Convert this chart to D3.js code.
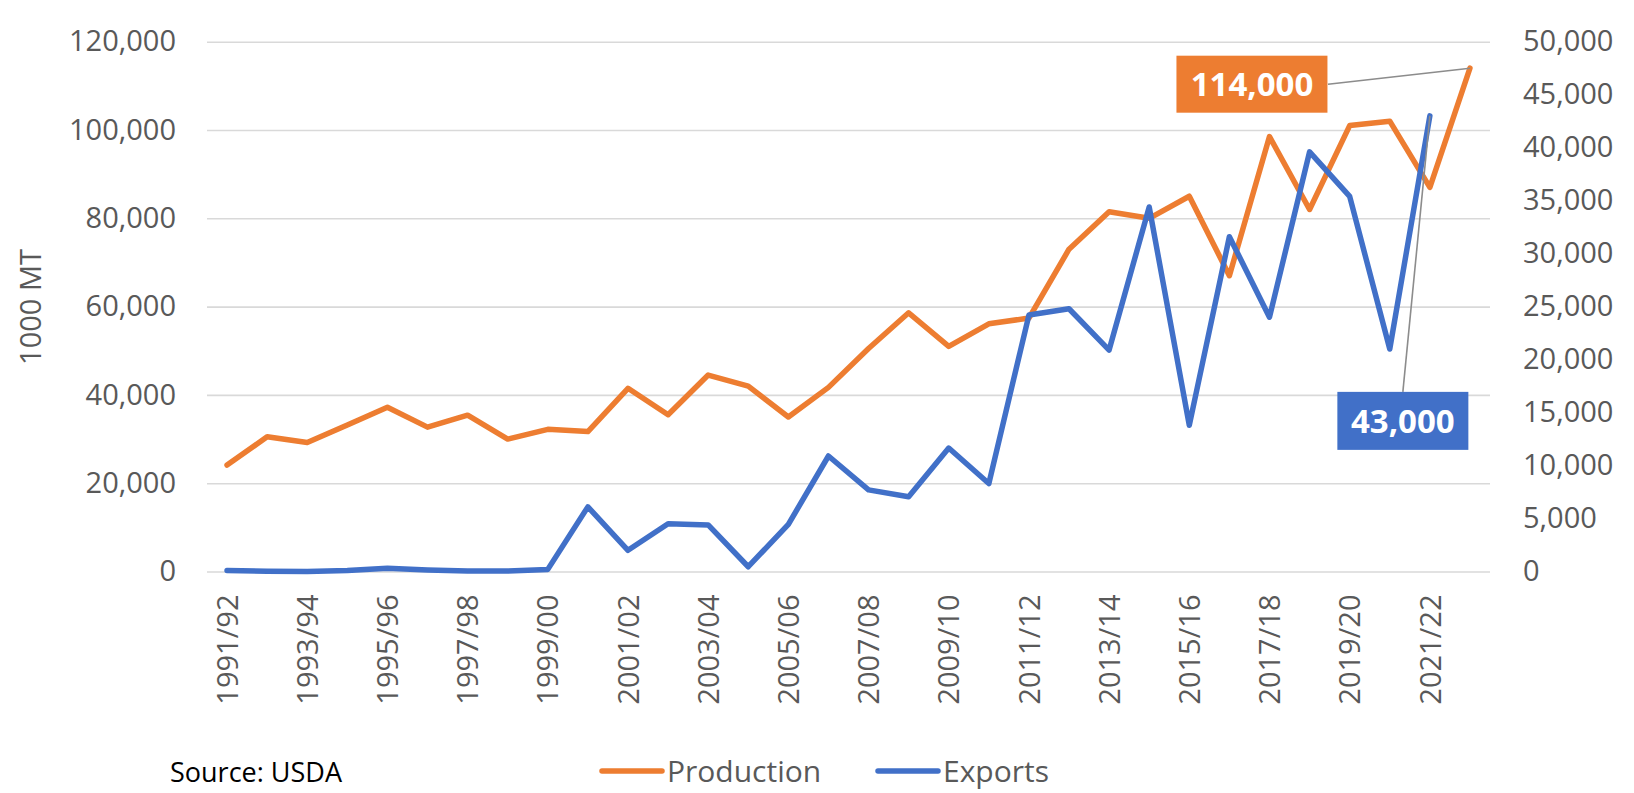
<!DOCTYPE html>
<html>
<head>
<meta charset="utf-8">
<script src="https://cdn.jsdelivr.net/npm/d3@7"></script>
<style>
  html, body { margin: 0; padding: 0; background: #ffffff; }
  svg { display: block; font-family: "Open Sans", sans-serif; }
</style>
</head>
<body>
<svg id="chart" width="1634" height="793"></svg>
<script>
// ---- Data ----
const categories = ["1991/92","1992/93","1993/94","1994/95","1995/96","1996/97","1997/98","1998/99",
  "1999/00","2000/01","2001/02","2002/03","2003/04","2004/05","2005/06","2006/07","2007/08","2008/09",
  "2009/10","2010/11","2011/12","2012/13","2013/14","2014/15","2015/16","2016/17","2017/18","2018/19",
  "2019/20","2020/21","2021/22","2022/23"];
const production = [24100, 30500, 29200, 33200, 37200, 32700, 35400, 30000, 32200, 31700,
  41500, 35500, 44500, 42000, 35000, 41700, 50500, 58600, 51000, 56100,
  57400, 73000, 81500, 80000, 85000, 67000, 98500, 82000, 101000, 102000,
  87000, 114000];
const exportsData = [100, 20, 0, 100, 300, 150, 50, 50, 200, 6100,
  2000, 4500, 4400, 450, 4450, 10900, 7700, 7050, 11650, 8300,
  24200, 24800, 20900, 34400, 13800, 31600, 24000, 39600, 35400, 21000,
  43000];
const leftTicks = [0, 20000, 40000, 60000, 80000, 100000, 120000];
const rightTicks = [0, 5000, 10000, 15000, 20000, 25000, 30000, 35000, 40000, 45000, 50000];
const seriesNames = ["Production", "Exports"];
const labelProduction = "114,000";
const labelExports = "43,000";
const yTitle = "1000 MT";
const sourceText = "Source: USDA";

// ---- Styles ----
const ORANGE = "#ED7D31";
const BLUE = "#4170C8";
const TEXT = "#595959";
const GRID = "#D9D9D9";

const svg = d3.select("#chart");
const plot = { left: 207, right: 1490, top: 41.7, bottom: 571.5 };

const x = d3.scalePoint().domain(categories).range([plot.left, plot.right]).padding(0.5);
const yL = d3.scaleLinear().domain([0, 120000]).range([plot.bottom, plot.top]);
const yR = d3.scaleLinear().domain([0, 50000]).range([plot.bottom, plot.top]);
const fmt = d3.format(",");

// gridlines
const gridAxis = d3.axisLeft(yL).tickValues(leftTicks).tickSize(-(plot.right - plot.left)).tickFormat("");
const gg = svg.append("g").attr("transform", `translate(${plot.left},0)`).call(gridAxis);
gg.select(".domain").remove();
gg.selectAll("line").attr("stroke", GRID).attr("stroke-width", 1.6);

// left axis labels
const la = svg.append("g").attr("transform", `translate(176,0)`)
  .call(d3.axisLeft(yL).tickValues(leftTicks).tickSize(0).tickPadding(0).tickFormat(fmt));
la.select(".domain").remove();
la.selectAll("text").attr("fill", TEXT).style("font-size", "29px").style("font-family", "'Open Sans', sans-serif");

// right axis labels
const ra = svg.append("g").attr("transform", `translate(1523,0)`)
  .call(d3.axisRight(yR).tickValues(rightTicks).tickSize(0).tickPadding(0).tickFormat(fmt));
ra.select(".domain").remove();
ra.selectAll("text").attr("fill", TEXT).style("font-size", "29px").style("font-family", "'Open Sans', sans-serif");

// x axis labels
const xa = svg.append("g").attr("transform", `translate(0,${plot.bottom})`)
  .call(d3.axisBottom(x).tickValues(categories.filter((d, i) => i % 2 === 0 && i < 31)).tickSize(0).tickPadding(0));
xa.select(".domain").remove();
xa.selectAll("text")
  .attr("fill", TEXT)
  .style("font-size", "29px")
  .style("font-family", "'Open Sans', sans-serif")
  .attr("text-anchor", "end")
  .attr("transform", "translate(0,23) rotate(-90)")
  .attr("x", 0).attr("y", 0).attr("dy", "0.35em");

// y title
svg.append("text").text(yTitle)
  .attr("transform", `translate(31,307) rotate(-90)`)
  .attr("text-anchor", "middle").attr("dy", "0.35em")
  .attr("fill", TEXT).style("font-size", "29px");

// lines
const lineP = d3.line().x((d, i) => x(categories[i])).y(d => yL(d));
const lineE = d3.line().x((d, i) => x(categories[i])).y(d => yR(d));
svg.append("path").datum(production).attr("d", lineP)
  .attr("fill", "none").attr("stroke", ORANGE).attr("stroke-width", 5.5)
  .attr("stroke-linejoin", "round").attr("stroke-linecap", "round");
svg.append("path").datum(exportsData).attr("d", lineE)
  .attr("fill", "none").attr("stroke", BLUE).attr("stroke-width", 5.5)
  .attr("stroke-linejoin", "round").attr("stroke-linecap", "round");

// data labels with leader lines
function dataLabel(px, py, cx, cy, w, h, text, color, lx, ly) {
  svg.append("line").attr("x1", lx).attr("y1", ly).attr("x2", px).attr("y2", py)
    .attr("stroke", "#8C8C8C").attr("stroke-width", 1.6);
  svg.append("rect").attr("x", cx - w / 2).attr("y", cy - h / 2).attr("width", w).attr("height", h)
    .attr("fill", color);
  svg.append("text").text(text).attr("x", cx).attr("y", cy).attr("dy", "0.36em")
    .attr("text-anchor", "middle").attr("fill", "#ffffff")
    .style("font-size", "33px").style("font-weight", "700");
}
const pLast = production.length - 1;
const ppx = x(categories[pLast]), ppy = yL(production[pLast]);
dataLabel(ppx, ppy, ppx - 218, ppy + 16, 151, 57, labelProduction, ORANGE, ppx - 142, ppy + 16);
const eLast = exportsData.length - 1;
const epx = x(categories[eLast]), epy = yR(exportsData[eLast]);
dataLabel(epx, epy, epx - 27, epy + 305, 131, 58, labelExports, BLUE, epx - 27, epy + 276);

// legend
const legend = [{ name: seriesNames[0], color: ORANGE, x: 602 }, { name: seriesNames[1], color: BLUE, x: 878 }];
legend.forEach(l => {
  svg.append("line").attr("x1", l.x).attr("x2", l.x + 60).attr("y1", 771).attr("y2", 771)
    .attr("stroke", l.color).attr("stroke-width", 5.5).attr("stroke-linecap", "round");
  svg.append("text").text(l.name).attr("x", l.x + 65).attr("y", 771).attr("dy", "0.35em")
    .attr("fill", TEXT).style("font-size", "30px");
});

// source
svg.append("text").text(sourceText).attr("x", 170).attr("y", 782)
  .attr("fill", "#000000").style("font-size", "27px");
</script>
</body>
</html>
